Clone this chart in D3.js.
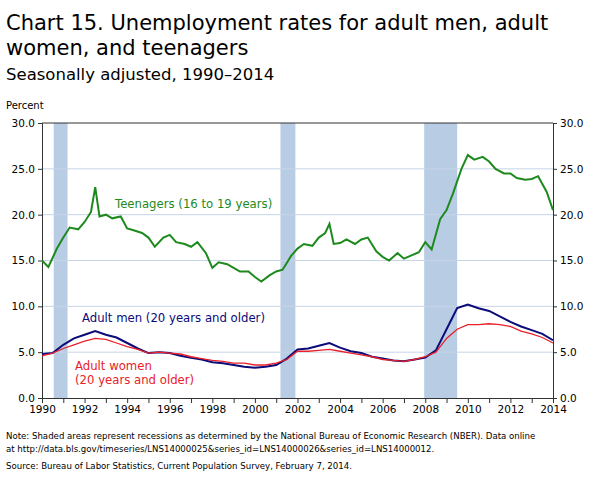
<!DOCTYPE html>
<html>
<head>
<meta charset="utf-8">
<script src="https://cdn.jsdelivr.net/npm/d3@7"></script>
<style>
  body { margin: 0; background: #fff; font-family: Verdana, "DejaVu Sans", sans-serif; }
  text { font-family: Verdana, "DejaVu Sans", sans-serif; }
</style>
</head>
<body>
<script>
// data
var teenYears = [1990,1990.3,1990.7,1991,1991.3,1991.7,1992,1992.3,1992.5,1992.7,1993,1993.3,1993.7,1994,1994.3,1994.7,1995,1995.3,1995.7,1996,1996.3,1996.7,1997,1997.3,1997.7,1998,1998.3,1998.7,1999,1999.3,1999.7,2000,2000.3,2000.7,2001,2001.3,2001.7,2002,2002.3,2002.7,2003,2003.3,2003.5,2003.7,2004,2004.3,2004.7,2005,2005.3,2005.7,2006,2006.3,2006.7,2007,2007.3,2007.7,2008,2008.3,2008.7,2009,2009.3,2009.7,2010,2010.3,2010.7,2011,2011.3,2011.7,2012,2012.3,2012.7,2013,2013.3,2013.7,2014];
var teenRates = [15.0,14.3,16.3,17.5,18.6,18.4,19.2,20.3,23.0,19.8,20.0,19.6,19.8,18.5,18.3,18.0,17.5,16.5,17.5,17.8,17.0,16.8,16.5,17.0,15.8,14.2,14.8,14.6,14.2,13.8,13.8,13.2,12.7,13.4,13.8,14.0,15.5,16.3,16.8,16.6,17.5,18.0,19.0,16.8,16.9,17.3,16.8,17.3,17.5,16.0,15.4,15.0,15.8,15.2,15.5,15.9,17.0,16.2,19.5,20.5,22.3,25.0,26.5,26.0,26.3,25.8,25.0,24.5,24.5,24.0,23.8,23.9,24.2,22.5,20.5];
var adultYears = [1990,1990.5,1991,1991.5,1992,1992.5,1993,1993.5,1994,1994.5,1995,1995.5,1996,1996.5,1997,1997.5,1998,1998.5,1999,1999.5,2000,2000.5,2001,2001.5,2002,2002.5,2003,2003.5,2004,2004.5,2005,2005.5,2006,2006.5,2007,2007.5,2008,2008.5,2009,2009.5,2010,2010.5,2011,2011.5,2012,2012.5,2013,2013.5,2014];
var menRates = [4.8,4.9,5.8,6.5,6.9,7.3,6.9,6.6,6.0,5.4,4.9,5.0,4.9,4.6,4.4,4.2,3.9,3.8,3.6,3.4,3.3,3.4,3.6,4.3,5.3,5.4,5.7,6.0,5.5,5.1,4.9,4.5,4.3,4.1,4.0,4.2,4.4,5.2,7.5,9.8,10.2,9.8,9.5,8.9,8.3,7.8,7.4,7.0,6.3];
var womenRates = [4.6,4.9,5.4,5.8,6.2,6.5,6.4,6.0,5.6,5.3,4.9,5.0,4.9,4.8,4.5,4.3,4.1,4.0,3.8,3.8,3.6,3.6,3.8,4.2,5.1,5.1,5.2,5.3,5.1,4.9,4.7,4.5,4.2,4.1,4.0,4.2,4.5,5.0,6.5,7.5,8.0,8.0,8.1,8.0,7.8,7.3,7.0,6.6,6.0];
var recessions = [[1990.55, 1991.2], [2001.2, 2001.9], [2007.95, 2009.5]];
var yTicks = [0, 5, 10, 15, 20, 25, 30];
var xTicks = [1990,1992,1994,1996,1998,2000,2002,2004,2006,2008,2010,2012,2014];

var W = 596, H = 491;
var m = { left: 42, right: 43, top: 123, bottom: 93 };
var svg = d3.select("body").append("svg").attr("width", W).attr("height", H);

var x = d3.scaleLinear().domain([1990, 2014]).range([m.left, W - m.right]);
var y = d3.scaleLinear().domain([0, 30]).range([H - m.bottom, m.top]);

// titles
svg.append("text").attr("x", 6).attr("y", 30).style("font-size", "21px").text("Chart 15.  Unemployment rates for adult men, adult");
svg.append("text").attr("x", 6).attr("y", 55).style("font-size", "21px").text("women, and teenagers");
svg.append("text").attr("x", 6).attr("y", 80).style("font-size", "16.5px").text("Seasonally adjusted, 1990\u20132014");
svg.append("text").attr("x", 6).attr("y", 109).style("font-size", "10px").text("Percent");

// recession bands
svg.selectAll(".rec").data(recessions).enter().append("rect")
  .attr("x", d => x(d[0])).attr("width", d => x(d[1]) - x(d[0]))
  .attr("y", y(30)).attr("height", y(0) - y(30))
  .attr("fill", "#b8cce4");

// gridlines
svg.selectAll(".grid").data(yTicks.slice(1, -1)).enter().append("line")
  .attr("x1", x(1990)).attr("x2", x(2014)).attr("y1", d => y(d)).attr("y2", d => y(d))
  .attr("stroke", "#c6d5e8").attr("stroke-width", 1);

// frame
svg.append("line").attr("x1", x(1990)).attr("x2", x(2014)).attr("y1", y(30)).attr("y2", y(30)).attr("stroke", "#333");

var fmt = d3.format(".1f");
var axL = svg.append("g").attr("transform", "translate(" + x(1990) + ",0)")
  .call(d3.axisLeft(y).tickValues(yTicks).tickFormat(fmt).tickSizeOuter(0).tickSize(4));
var axR = svg.append("g").attr("transform", "translate(" + x(2014) + ",0)")
  .call(d3.axisRight(y).tickValues(yTicks).tickFormat(fmt).tickSizeOuter(0).tickSize(4));
var axB = svg.append("g").attr("transform", "translate(0," + y(0) + ")")
  .call(d3.axisBottom(x).ticks(24).tickFormat(d => xTicks.indexOf(d) >= 0 ? d : "").tickSizeOuter(0).tickSize(5));
[axL, axR, axB].forEach(function (a) {
  a.selectAll("path,line").attr("stroke", "#333");
  a.selectAll("text").style("font-size", "10.5px").attr("fill", "#000");
});

// lines
function drawLine(xs, ys, color, w) {
  svg.append("path").datum(xs.map((d, i) => [d, ys[i]]))
    .attr("fill", "none").attr("stroke", color).attr("stroke-width", w)
    .attr("d", d3.line().x(d => x(d[0])).y(d => y(d[1])));
}
drawLine(teenYears, teenRates, "#1e8a1e", 2);
drawLine(adultYears, menRates, "#0b0b7a", 2);
drawLine(adultYears, womenRates, "#e8212a", 1.3);

// labels
svg.append("text").attr("x", 115).attr("y", 208).attr("fill", "#1e8a1e").style("font-size", "11.7px").text("Teenagers (16 to 19 years)");
svg.append("text").attr("x", 82).attr("y", 322).attr("fill", "#0b0b7a").style("font-size", "11.7px").text("Adult men (20 years and older)");
svg.append("text").attr("x", 75).attr("y", 370).attr("fill", "#e8212a").style("font-size", "11.7px").text("Adult women");
svg.append("text").attr("x", 75).attr("y", 384).attr("fill", "#e8212a").style("font-size", "11.7px").text("(20 years and older)");

// notes
var notes = [
  "Note:  Shaded areas represent recessions as determined by the National Bureau of Economic Research (NBER).  Data online",
  "at http://data.bls.gov/timeseries/LNS14000025&series_id=LNS14000026&series_id=LNS14000012."
];
svg.selectAll(".note").data(notes).enter().append("text")
  .attr("x", 6).attr("y", (d, i) => 439 + i * 13).style("font-size", "8.6px").text(d => d);
svg.append("text").attr("x", 6).attr("y", 469).style("font-size", "8.6px")
  .text("Source:  Bureau of Labor Statistics, Current Population Survey, February 7, 2014.");
</script>
</body>
</html>
